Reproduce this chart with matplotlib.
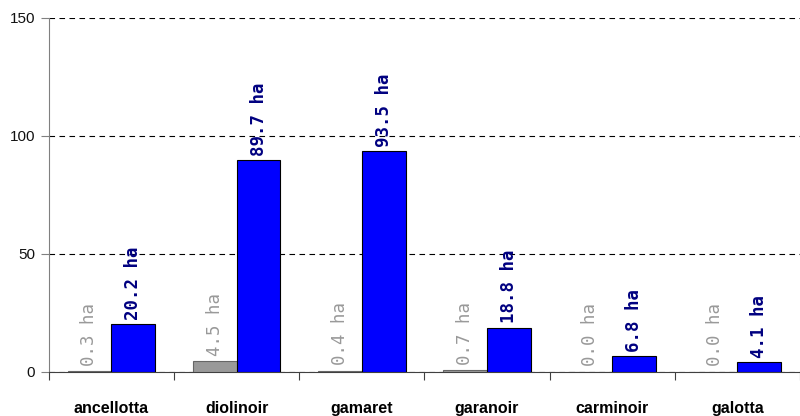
import numpy as np
import matplotlib.pyplot as plt

# data
categories = ["ancellotta", "diolinoir", "gamaret", "garanoir", "carminoir", "galotta"]
gray_vals = [0.3, 4.5, 0.4, 0.7, 0.0, 0.0]
blue_vals = [20.2, 89.7, 93.5, 18.8, 6.8, 4.1]
yticks = [0, 50, 100, 150]

narrow = ["Liberation Sans Narrow", "Liberation Sans", "DejaVu Sans"]

fig = plt.figure(figsize=(8, 4.16), dpi=100)
ax = fig.add_axes([0.061, 0.106, 0.939, 0.851])

x = np.arange(len(categories))
w = 0.35
ax.bar(x - w / 2, gray_vals, w, color="#999999", edgecolor="#666666", linewidth=0.8, zorder=3)
ax.bar(x + w / 2, blue_vals, w, color="#0000ff", edgecolor="black", linewidth=0.8, zorder=3)

# value labels
for i in range(len(categories)):
    ax.annotate(f"{gray_vals[i]:.1f} ha", (x[i] - w / 2, gray_vals[i]), xytext=(0, 4),
                textcoords="offset points", rotation=90, ha="center", va="bottom",
                fontsize=12.5, family="DejaVu Sans Mono", color="#999999")
    ax.annotate(f"{blue_vals[i]:.1f} ha", (x[i] + w / 2, blue_vals[i]), xytext=(0, 3),
                textcoords="offset points", rotation=90, ha="center", va="bottom",
                fontsize=12.5, family="DejaVu Sans Mono", fontweight="bold", color="#000080")

ax.set_xlim(-0.5, len(categories) - 0.5)
ax.set_ylim(0, 150)
ax.set_yticks(yticks)
ax.set_yticklabels([str(t) for t in yticks], family=narrow, fontsize=11, color="#111111")
ax.yaxis.grid(True, color="black", linestyle=(0, (5, 4)), linewidth=0.8)
ax.set_axisbelow(True)

# category boundaries as ticks, names centered
ax.set_xticks(np.arange(len(categories) + 1) - 0.5)
ax.set_xticklabels([])
ax.set_xticks(x, minor=True)
ax.set_xticklabels(categories, minor=True, family=narrow, fontsize=11.5, fontweight="bold")
ax.tick_params(axis="x", which="minor", length=0, pad=21)
ax.tick_params(axis="x", which="major", length=6, color="#404040")
ax.tick_params(axis="y", length=6, color="#808080", pad=4)

for s in ["top", "right"]:
    ax.spines[s].set_visible(False)
ax.spines["left"].set_color("#808080")
ax.spines["bottom"].set_color("#404040")

plt.savefig("out.png", dpi=100)
